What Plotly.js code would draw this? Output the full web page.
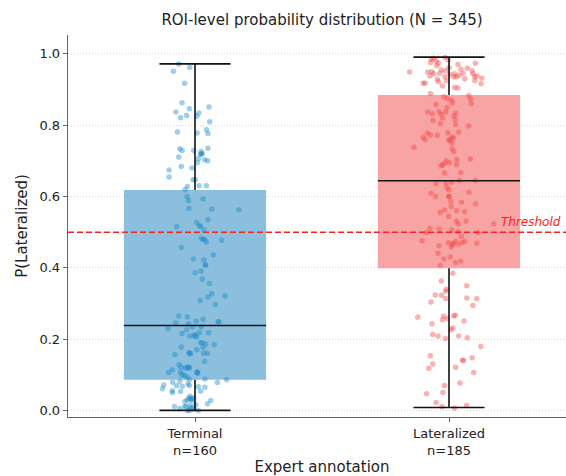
<!DOCTYPE html>
<html>
<head>
<meta charset="utf-8">
<script src="https://cdn.plot.ly/plotly-3.0.1.min.js"></script>
<style>
html,body{margin:0;padding:0;background:#fff;overflow:hidden;}
#plot{width:600px;height:476px;}
</style>
</head>
<body>
<div id="plot"></div>
<script>
// ---- data ----
const categories = ['Terminal', 'Lateralized'];
const nCounts = [160, 185];
const q1 = [0.086, 0.399];
const medians = [0.238, 0.644];
const q3 = [0.618, 0.885];
const whiskLo = [0.0, 0.008];
const whiskHi = [0.972, 0.991];
const threshold = 0.5;

const termP = [
0.972,0.951,0.962,0.918,0.863,0.837,0.846,0.821,0.827,0.834,0.825,0.851,0.810,0.781,0.778,0.787,0.777,
0.734,0.729,0.729,0.726,0.735,0.711,0.718,0.706,0.720,0.703,0.700,0.695,0.684,0.680,0.674,0.655,0.647,
0.647,0.628,0.619,0.630,0.630,0.600,0.589,0.593,0.566,0.565,0.563,0.515,0.528,0.519,0.516,0.535,0.507,
0.482,0.480,0.472,0.479,0.477,0.457,
0.425,0.422,0.408,0.436,0.386,0.390,0.368,0.356,0.308,0.318,0.327,0.321,0.297,0.265,0.262,0.256,0.245,
0.243,0.249,0.248,0.229,0.226,0.234,0.234,0.216,0.209,0.209,0.206,0.218,0.218,0.190,0.186,0.177,0.184,
0.178,0.170,0.162,0.159,0.160,0.160,0.157,0.137,0.129,0.121,0.119,0.120,0.119,0.114,0.107,0.106,0.104,
0.106,0.098,0.099,0.092,0.088,0.087,0.082,0.079,0.086,0.078,0.075,0.070,0.069,0.071,0.061,0.066,0.065,
0.068,0.053,0.050,0.055,0.054,0.040,0.034,0.034,0.028,0.029,0.028,0.019,0.011,0.010,0.014,0.009,0.003,
0.000,0.000,0.000,0.005,0.016,
0.408,0.160,0.108,0.030,0.005,0.012,0.035,0.250,0.212,0.122,0.190,0.720,0.025
];
const termJitter = [
-0.064,-0.085,-0.021,-0.041,-0.051,-0.075,-0.022,-0.057,-0.033,0.015,0.007,0.055,0.058,-0.069,0.008,0.045,0.051,
-0.060,-0.051,-0.005,0.024,0.051,-0.064,0.021,0.013,0.028,0.038,0.050,0.009,-0.054,-0.012,-0.102,-0.102,-0.008,
0.002,-0.030,-0.039,0.016,0.045,-0.031,-0.026,0.032,-0.024,0.066,0.173,-0.072,0.006,0.017,0.022,0.051,0.035,
0.025,0.032,0.045,0.039,0.105,-0.054,
-0.006,0.035,0.042,0.072,0.000,0.024,0.028,0.057,0.020,0.051,0.066,0.118,0.080,-0.064,-0.030,0.032,-0.076,
-0.026,0.091,0.094,-0.106,-0.033,-0.010,0.024,-0.051,-0.021,-0.004,0.006,0.017,0.054,0.022,0.042,0.032,0.076,
-0.054,0.007,-0.024,-0.018,0.034,0.049,-0.079,0.038,-0.063,-0.056,-0.030,-0.039,-0.022,-0.089,-0.057,0.007,0.011,
-0.104,-0.041,-0.051,-0.031,0.039,-0.021,-0.060,-0.088,0.125,0.088,-0.028,-0.022,-0.072,-0.123,-0.128,0.013,0.039,
-0.050,-0.057,-0.089,-0.089,0.022,-0.020,-0.024,-0.014,0.062,-0.031,-0.010,0.049,-0.081,-0.042,-0.020,-0.010,-0.004,
-0.029,-0.022,0.013,-0.060,0.003,
0.040,-0.020,0.009,-0.018,-0.018,-0.035,-0.005,0.005,0.000,-0.025,0.028,0.025,-0.040
];

const latP = [
0.985,0.988,0.980,0.974,0.976,0.974,0.949,0.949,0.950,0.938,0.944,0.955,0.946,0.953,0.942,0.944,0.936,0.936,
0.960,0.946,0.953,0.944,0.936,0.938,0.932,0.918,0.918,0.922,0.929,0.936,0.925,0.910,0.906,0.904,0.925,0.916,
0.990,0.983,0.962,0.967,0.930,0.940,0.970,0.957,
0.889,0.880,0.875,0.883,0.873,0.860,0.858,0.871,0.862,0.849,0.837,0.832,0.838,0.831,0.834,0.826,0.837,
0.813,0.820,0.804,0.815,0.802,0.798,0.778,0.773,0.766,0.759,0.772,0.779,0.766,0.764,0.757,0.780,
0.738,0.750,0.734,0.726,0.704,0.705,0.688,0.688,0.694,0.695,0.667,0.666,0.645,0.645,
0.636,0.637,0.626,0.619,0.609,0.600,0.612,0.587,0.600,0.584,0.580,0.572,0.555,0.563,0.557,0.544,
0.531,0.523,0.531,0.523,0.511,0.509,0.507,0.499,0.499,0.501,0.488,
0.476,0.462,0.441,0.425,0.407,0.458,0.469,0.474,0.466,0.471,0.474,0.469,0.465,0.415,0.419,
0.700,0.690,0.640,0.560,0.470,0.430,0.600,0.760,
0.385,0.363,0.350,0.340,0.334,0.324,0.323,0.314,0.304,0.315,0.313,0.294,0.261,0.243,0.264,0.254,0.258,
0.265,0.267,0.251,0.231,0.226,0.213,0.209,0.202,0.209,0.204,0.179,0.153,0.130,0.118,0.140,0.141,0.148,
0.121,0.106,0.077,0.070,0.047,0.050,0.022,0.014,0.010,0.007
];
const latJitter = [
-0.069,-0.060,-0.050,-0.042,-0.072,0.104,-0.155,-0.084,-0.068,-0.075,-0.060,-0.030,-0.037,-0.013,0.003,0.022,0.029,0.019,
0.072,0.055,0.091,0.094,0.101,0.110,0.129,-0.102,-0.094,-0.042,-0.046,-0.016,-0.010,-0.026,0.022,0.035,0.102,0.126,
-0.015,-0.003,0.000,-0.048,0.062,0.040,0.035,0.047,
-0.073,-0.020,-0.008,0.078,0.085,0.088,-0.051,0.009,0.013,-0.008,-0.083,-0.065,-0.039,-0.031,0.026,0.020,-0.013,
-0.063,-0.025,-0.034,0.024,0.026,0.078,-0.085,-0.073,-0.102,-0.094,-0.046,-0.004,0.012,0.017,0.003,0.038,
-0.138,0.011,0.012,0.019,0.031,0.084,-0.026,-0.031,-0.016,0.002,0.046,-0.018,0.041,0.104,
-0.051,-0.012,-0.008,0.000,-0.071,-0.052,0.079,0.007,-0.001,0.049,0.105,0.009,-0.035,-0.017,0.061,-0.001,
0.029,0.037,0.067,0.176,-0.075,-0.039,0.011,0.114,-0.089,0.035,0.049,
-0.106,-0.039,-0.043,-0.020,-0.034,0.009,0.017,0.025,0.037,0.051,0.062,0.110,0.013,0.026,0.046,
-0.010,0.030,0.010,0.030,-0.003,0.005,0.000,0.000,
0.015,-0.030,0.070,-0.010,-0.013,-0.054,-0.030,-0.013,-0.071,0.070,0.109,0.094,-0.123,-0.067,-0.021,-0.025,-0.006,
0.019,0.025,0.059,0.015,0.008,-0.064,-0.043,-0.014,0.038,0.072,0.125,-0.073,-0.064,-0.080,0.057,0.053,0.091,
0.026,0.097,0.043,-0.018,-0.088,-0.024,-0.051,0.069,-0.028,0.022
];

// ---- styles ----
const boxFill = ['#8bbfdd', '#f9a4a4'];
const pointColor = ['rgba(24,136,200,0.42)', 'rgba(242,70,70,0.42)'];
const boxWidth = 0.56, capWidth = 0.28;
const FONT = 'DejaVu Sans, sans-serif';

const traces = [];
// boxes as bars (q1..q3)
traces.push({
  type: 'bar', x: [0, 1], base: q1, y: q3.map((v, i) => v - q1[i]),
  width: boxWidth, marker: {color: boxFill, line: {width: 0}},
  hoverinfo: 'skip', showlegend: false
});
// jittered points
[[termP, termJitter], [latP, latJitter]].forEach(([ps, js], i) => {
  traces.push({
    type: 'scatter', mode: 'markers',
    x: js.map(j => i + j), y: ps,
    marker: {size: 5.5, color: pointColor[i], line: {width: 0}},
    hoverinfo: 'skip', showlegend: false
  });
});
// medians, whiskers and caps
const lx = [], ly = [];
categories.forEach((c, i) => {
  lx.push(i - boxWidth / 2, i + boxWidth / 2, null); ly.push(medians[i], medians[i], null);
  lx.push(i, i, null); ly.push(q3[i], whiskHi[i], null);
  lx.push(i - capWidth / 2, i + capWidth / 2, null); ly.push(whiskHi[i], whiskHi[i], null);
  lx.push(i, i, null); ly.push(q1[i], whiskLo[i], null);
  lx.push(i - capWidth / 2, i + capWidth / 2, null); ly.push(whiskLo[i], whiskLo[i], null);
});
traces.push({
  type: 'scatter', mode: 'lines', x: lx, y: ly,
  line: {color: '#111', width: 1.6}, hoverinfo: 'skip', showlegend: false, connectgaps: false
});

const layout = {
  width: 600, height: 476,
  margin: {l: 68, r: 24, t: 35, b: 59},
  paper_bgcolor: '#fff', plot_bgcolor: '#fff',
  font: {family: FONT, color: '#222', size: 13},
  title: {text: 'ROI-level probability distribution (N = 345)', font: {size: 15, family: FONT, color: '#222'},
          x: 0.5, xref: 'paper', xanchor: 'center', y: 1 - 20 / 476, yref: 'container', yanchor: 'middle'},
  xaxis: {
    range: [-0.5, 1.5], tickvals: [0, 1],
    ticktext: categories.map((c, i) => c + '<br>n=' + nCounts[i]),
    ticks: 'outside', ticklen: 4, tickwidth: 1, tickcolor: '#666',
    showline: true, linecolor: '#666', linewidth: 1.3, showgrid: false, zeroline: false,
    tickfont: {size: 13, family: FONT, color: '#222'},
    title: {text: 'Expert annotation', font: {size: 15, family: FONT, color: '#222'}, standoff: 4}
  },
  yaxis: {
    range: [-0.0185, 1.053], tickvals: [0, 0.2, 0.4, 0.6, 0.8, 1.0],
    ticktext: ['0.0', '0.2', '0.4', '0.6', '0.8', '1.0'],
    ticks: 'outside', ticklen: 4, tickwidth: 1, tickcolor: '#666',
    showline: true, linecolor: '#666', linewidth: 1.3, zeroline: false,
    showgrid: true, gridcolor: '#d6d6d6', gridwidth: 1, griddash: '1px,2px',
    tickfont: {size: 13, family: FONT, color: '#222'},
    title: {text: 'P(Lateralized)', font: {size: 15, family: FONT, color: '#222'}, standoff: 8}
  },
  shapes: [{
    type: 'line', xref: 'paper', x0: 0, x1: 1, yref: 'y', y0: threshold, y1: threshold,
    line: {color: '#ff2020', width: 1.5, dash: '6px,3px'}, layer: 'above'
  }],
  annotations: [{
    text: '<i>Threshold</i>', xref: 'paper', x: (563 - 68) / 508, xanchor: 'right',
    yref: 'y', y: threshold, yanchor: 'bottom', yshift: 1, showarrow: false,
    font: {size: 12, family: FONT, color: '#ff2020'}
  }]
};

Plotly.newPlot('plot', traces, layout, {staticPlot: true, displayModeBar: false});
</script>
</body>
</html>
